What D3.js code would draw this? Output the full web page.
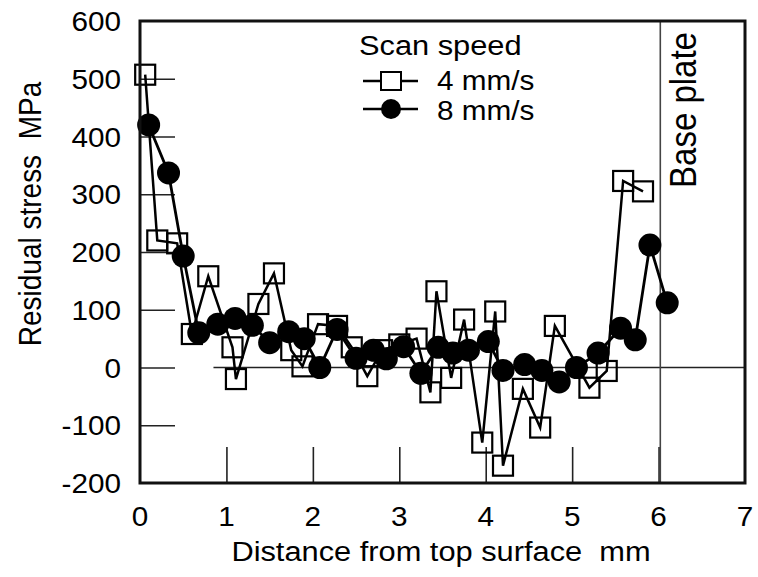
<!DOCTYPE html>
<html>
<head>
<meta charset="utf-8">
<script src="https://cdn.jsdelivr.net/npm/d3@7"></script>
<style>
  body { margin: 0; background: #fff; }
  svg { font-family: "Liberation Sans", Arial, sans-serif; }
</style>
</head>
<body>
<div id="chart"></div>
<script>
// 4 mm/s (open squares)
var dist4 = [0.06, 0.2, 0.43, 0.6, 0.79, 1.07, 1.11, 1.37, 1.55, 1.75, 1.88, 2.06, 2.28, 2.45, 2.63, 2.8, 3.0, 3.2, 3.36, 3.43, 3.6, 3.75, 3.96, 4.11, 4.2, 4.43, 4.63, 4.8, 5.2, 5.4, 5.59, 5.82];
var stress4 = [507, 220, 215, 58, 158, 35, -20, 110, 163, 30, 2, 75, 72, 35, -15, 30, 40, 50, -43, 132, -18, 83, -130, 97, -170, -37, -104, 72, -35, -6, 323, 305];

// 8 mm/s (filled circles)
var dist8 = [0.1, 0.33, 0.5, 0.68, 0.9, 1.1, 1.3, 1.5, 1.72, 1.9, 2.08, 2.28, 2.5, 2.7, 2.85, 3.05, 3.25, 3.45, 3.62, 3.8, 4.03, 4.2, 4.45, 4.65, 4.85, 5.05, 5.3, 5.56, 5.73, 5.9, 6.1];
var stress8 = [420, 337, 193, 60, 75, 85, 73, 43, 62, 50, 0, 66, 16, 30, 15, 36, -10, 35, 25, 30, 45, -5, 5, -5, -25, 0, 25, 68, 48, 212, 112];

var xTicks = [0, 1, 2, 3, 4, 5, 6, 7];
var yTicks = [-200, -100, 0, 100, 200, 300, 400, 500, 600];

var W = 758, H = 577;
var mL = 140, mR = 745, mT = 21, mB = 483;
var sx = 1.1; // the original text looks a little wide

var svg = d3.select("#chart").append("svg")
  .attr("width", W)
  .attr("height", H);

var x = d3.scaleLinear().domain([0, 7]).range([mL, mR]);
var y = d3.scaleLinear().domain([-200, 600]).range([mB, mT]);

// put a text at (px,py), stretched sideways a bit
function label(g, px, py, str, size, anchor, rot) {
  var t = "translate(" + px + "," + py + ") scale(" + sx + ",1)";
  if (rot) t += " rotate(" + rot + ")";
  return g.append("text")
    .attr("transform", t)
    .attr("text-anchor", anchor || "start")
    .attr("font-size", size)
    .attr("xml:space", "preserve")
    .text(str);
}

// inward ticks
svg.append("g")
  .attr("transform", "translate(" + mL + ",0)")
  .call(d3.axisRight(y).tickValues(yTicks.slice(1, -1)).tickSize(35).tickFormat(""))
  .call(function(g) { g.select(".domain").remove(); })
  .selectAll("line").attr("stroke", "#222").attr("stroke-width", 1.6);

svg.append("g")
  .attr("transform", "translate(0," + mB + ")")
  .call(d3.axisTop(x).tickValues(xTicks.slice(1, -1)).tickSize(36).tickFormat(""))
  .call(function(g) { g.select(".domain").remove(); })
  .selectAll("line").attr("stroke", "#222").attr("stroke-width", 1.6);

// tick labels
var gy = svg.append("g");
yTicks.forEach(function(d) { label(gy, 121, y(d) + 10, String(d), 27, "end"); });

var gx = svg.append("g");
xTicks.forEach(function(d) { label(gx, x(d), 526, String(d), 27, "middle"); });

// axis titles
label(svg, 41, 214, "Residual stress  MPa", 28, "middle", -90);
label(svg, 441, 561, "Distance from top surface  mm", 28, "middle");

// zero line and base plate line
svg.append("line")
  .attr("x1", x(0.85)).attr("x2", x(7))
  .attr("y1", y(0)).attr("y2", y(0))
  .attr("stroke", "#222").attr("stroke-width", 1.6);

svg.append("line")
  .attr("x1", x(6.02)).attr("x2", x(6.02))
  .attr("y1", mT).attr("y2", mB)
  .attr("stroke", "#444").attr("stroke-width", 1.6);

label(svg, 696, 110, "Base plate", 33, "middle", -90);

var line = d3.line()
  .x(function(d) { return x(d[0]); })
  .y(function(d) { return y(d[1]); });

var pts4 = d3.zip(dist4, stress4);
var pts8 = d3.zip(dist8, stress8);

svg.append("path")
  .datum(pts4)
  .attr("d", line)
  .attr("fill", "none")
  .attr("stroke", "#000")
  .attr("stroke-width", 2.5);

svg.append("path")
  .datum(pts8)
  .attr("d", line)
  .attr("fill", "none")
  .attr("stroke", "#000")
  .attr("stroke-width", 2.8);

svg.append("g").selectAll("rect")
  .data(pts4)
  .enter().append("rect")
  .attr("x", function(d) { return x(d[0]) - 10; })
  .attr("y", function(d) { return y(d[1]) - 10; })
  .attr("width", 20)
  .attr("height", 20)
  .attr("fill", "none")
  .attr("stroke", "#000")
  .attr("stroke-width", 2.2);

svg.append("g").selectAll("circle")
  .data(pts8)
  .enter().append("circle")
  .attr("cx", function(d) { return x(d[0]); })
  .attr("cy", function(d) { return y(d[1]); })
  .attr("r", 11.5)
  .attr("fill", "#000");

// frame
svg.append("rect")
  .attr("x", mL).attr("y", mT)
  .attr("width", mR - mL).attr("height", mB - mT)
  .attr("fill", "none")
  .attr("stroke", "#111")
  .attr("stroke-width", 3);

// legend
var lg = svg.append("g");
label(lg, 359, 55, "Scan speed", 28);

lg.append("line").attr("x1", 363).attr("x2", 418).attr("y1", 81).attr("y2", 81)
  .attr("stroke", "#000").attr("stroke-width", 2.5);
lg.append("rect").attr("x", 381).attr("y", 72).attr("width", 20).attr("height", 18)
  .attr("fill", "#fff").attr("stroke", "#000").attr("stroke-width", 2);
label(lg, 437, 90, "4 mm/s", 27);

lg.append("line").attr("x1", 363).attr("x2", 418).attr("y1", 109).attr("y2", 109)
  .attr("stroke", "#000").attr("stroke-width", 2.5);
lg.append("circle").attr("cx", 391).attr("cy", 109).attr("r", 10).attr("fill", "#000");
label(lg, 437, 120, "8 mm/s", 27);
</script>
</body>
</html>
